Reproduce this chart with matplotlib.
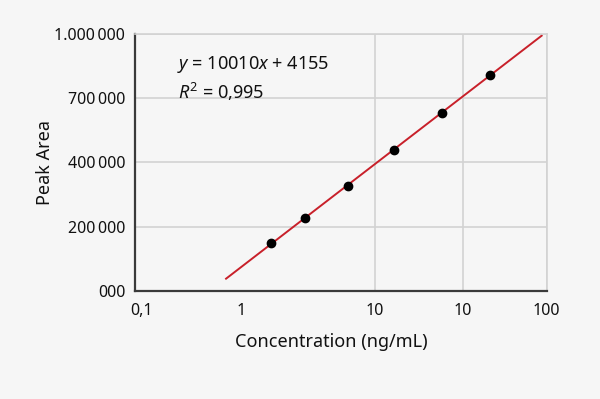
import matplotlib
matplotlib.use("Agg")
import matplotlib.pyplot as plt

# положения по оси x заданы в условных единицах рисунка (0..100)
conc_pos = [32.9, 41.3, 51.7, 62.9, 74.4, 86.2]
peak_area = [185600, 282900, 408600, 547500, 692600, 840500]

fit_x = [22.1, 98.7]
fit_y = [47900, 993400]

x_tick_pos = [1.7, 25.8, 58.2, 79.6, 99.8]
x_tick_labels = ["0,1", "1", "10", "10", "100"]
x_grid = [58.2, 79.6, 100]

y_tick_pos = [0, 250000, 500000, 750000, 1000000]
y_tick_labels = ["000", "200\u2009000", "400\u2009000", "700\u2009000", "1.000\u2009000"]

FONT = "Noto Sans"
plt.rcParams["font.family"] = [FONT, "DejaVu Sans"]
plt.rcParams["mathtext.fontset"] = "custom"
plt.rcParams["mathtext.rm"] = FONT
plt.rcParams["mathtext.it"] = FONT + ":italic"

fig = plt.figure(figsize=(6, 3.99), dpi=100, facecolor="#f6f6f6")
ax = fig.add_axes([0.225, 0.2707, 0.6867, 0.6441])
ax.set_facecolor("#f6f6f6")

for gx in x_grid:
    ax.axvline(gx, color="#d2d2d2", lw=1.2, zorder=1)
for gy in y_tick_pos[1:]:
    ax.axhline(gy, color="#d2d2d2", lw=1.2, zorder=1)

ax.plot(fit_x, fit_y, color="#c8202a", lw=1.4, zorder=2)
ax.plot(conc_pos, peak_area, "o", color="black", ms=6, zorder=3)

ax.set_xlim(0, 100)
ax.set_ylim(0, 1000000)
ax.set_xticks(x_tick_pos)
ax.set_xticklabels(x_tick_labels)
ax.set_yticks(y_tick_pos)
ax.set_yticklabels(y_tick_labels)
ax.tick_params(axis="both", length=0, labelsize=11.5, colors="#111111")
ax.tick_params(axis="x", pad=9)
ax.tick_params(axis="y", pad=7)

for side in ("top", "right"):
    ax.spines[side].set_color("#d2d2d2")
    ax.spines[side].set_linewidth(1.2)
for side in ("left", "bottom"):
    ax.spines[side].set_color("#3a3a3a")
    ax.spines[side].set_linewidth(1.6)

ax.set_xlabel("Concentration (ng/mL)", fontsize=13, labelpad=10, color="#111111", x=0.477)
ax.set_ylabel("Peak Area", fontsize=13, labelpad=0, color="#111111")

ax.text(10.2, 880000, r"$y$ = 10010$x$ + 4155", fontsize=13, va="center", color="#111111")
ax.text(10.5, 775000, r"$R^2$ = 0,995", fontsize=13, va="center", color="#111111")

fig.savefig("out.png", dpi=100, facecolor=fig.get_facecolor())
